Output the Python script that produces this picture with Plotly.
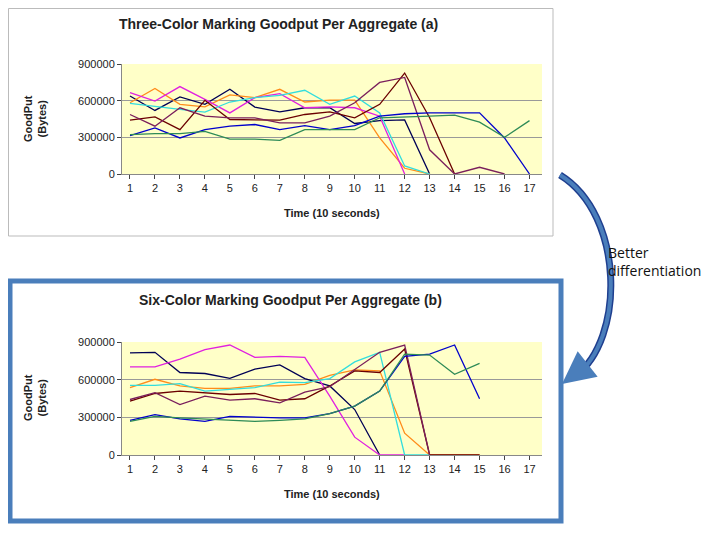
import plotly.graph_objects as go

W, H = 720, 540
OFF = 8  # page body margin shifts the figure
time = list(range(1, 18))
colors = ['#000055', '#FF8C1A', '#E020E0', '#33DDDD', '#6B0000', '#7A1F5C', '#0000CC', '#2E8B57']

# three-color marking (a)
a_navy = [638e3, 520e3, 630e3, 570e3, 693e3, 548e3, 509e3, 542e3, 542e3, 413e3, 437e3, 443e3, 0]
a_orange = [583e3, 700e3, 570e3, 550e3, 647e3, 625e3, 693e3, 589e3, 605e3, 605e3, 295e3, 47e3, 0]
a_magenta = [666e3, 597e3, 715e3, 611e3, 500e3, 625e3, 658e3, 542e3, 550e3, 542e3, 473e3, 0]
a_cyan = [578e3, 556e3, 528e3, 506e3, 589e3, 625e3, 644e3, 685e3, 570e3, 638e3, 500e3, 66e3, 0]
a_maroon = [440e3, 468e3, 363e3, 603e3, 446e3, 440e3, 440e3, 487e3, 509e3, 460e3, 570e3, 826e3, 460e3, 0]
a_purple = [487e3, 391e3, 542e3, 473e3, 460e3, 460e3, 418e3, 418e3, 473e3, 583e3, 749e3, 790e3, 198e3, 0, 55e3, 0]
a_blue = [314e3, 377e3, 295e3, 363e3, 391e3, 405e3, 363e3, 396e3, 363e3, 396e3, 473e3, 493e3, 500e3, 500e3, 500e3, 295e3, 0]
a_green = [322e3, 330e3, 330e3, 349e3, 286e3, 286e3, 275e3, 363e3, 363e3, 363e3, 460e3, 465e3, 473e3, 482e3, 424e3, 300e3, 437e3]

# six-color marking (b)
b_navy = [813e3, 818e3, 657e3, 649e3, 611e3, 684e3, 718e3, 608e3, 550e3, 362e3, 0]
b_orange = [536e3, 603e3, 550e3, 531e3, 531e3, 550e3, 550e3, 563e3, 635e3, 678e3, 670e3, 174e3, 0, 0, 0]
b_magenta = [702e3, 702e3, 764e3, 839e3, 876e3, 777e3, 786e3, 777e3, 469e3, 142e3, 0, 0]
b_cyan = [555e3, 555e3, 568e3, 509e3, 523e3, 536e3, 581e3, 576e3, 608e3, 742e3, 818e3, 0, 0]
b_maroon = [429e3, 490e3, 509e3, 496e3, 482e3, 490e3, 437e3, 448e3, 550e3, 670e3, 657e3, 844e3, 0, 0, 0]
b_purple = [442e3, 496e3, 402e3, 469e3, 437e3, 448e3, 415e3, 501e3, 544e3, 684e3, 818e3, 876e3, 0]
b_blue = [276e3, 322e3, 288e3, 268e3, 308e3, 300e3, 295e3, 295e3, 330e3, 389e3, 509e3, 785e3, 804e3, 876e3, 448e3]
b_green = [268e3, 308e3, 295e3, 287e3, 276e3, 268e3, 276e3, 287e3, 330e3, 389e3, 509e3, 804e3, 796e3, 643e3, 729e3]

series_a = [a_navy, a_orange, a_magenta, a_cyan, a_maroon, a_purple, a_blue, a_green]
series_b = [b_navy, b_orange, b_magenta, b_cyan, b_maroon, b_purple, b_blue, b_green]


def px(x):
    return (x - OFF) / W


def py(y):
    return 1 - (y - OFF) / H


fig = go.Figure()
for vals, c in zip(series_a, colors):
    fig.add_trace(go.Scatter(x=time[:len(vals)], y=vals, mode='lines', line=dict(color=c, width=1.3),
                             xaxis='x', yaxis='y', showlegend=False))
for vals, c in zip(series_b, colors):
    fig.add_trace(go.Scatter(x=time[:len(vals)], y=vals, mode='lines', line=dict(color=c, width=1.3),
                             xaxis='x2', yaxis='y2', showlegend=False))

xdom = [px(122), px(542)]
axis_x = dict(range=[0.68, 17.5], tickvals=time, ticks='outside', ticklen=4, showgrid=False,
              showline=True, linecolor='#888', zeroline=False, tickfont=dict(size=11, color='#222'),
              domain=xdom, automargin=False)
axis_y = dict(range=[0, 900000], tickvals=[0, 300000, 600000, 900000], tickformat='d',
              showgrid=True, gridcolor='#999', showline=True, linecolor='#888', ticks='outside',
              ticklen=4, zeroline=False, tickfont=dict(size=11, color='#222'), automargin=False)

fig.update_layout(
    width=W, height=H, margin=dict(l=0, r=0, t=0, b=0, autoexpand=False),
    paper_bgcolor='white', plot_bgcolor='#FFFFC8',
    font=dict(family='Liberation Sans, Arial', color='#222'),
    xaxis=dict(axis_x, anchor='y'),
    yaxis=dict(axis_y, domain=[py(174), py(64)], anchor='x'),
    xaxis2=dict(axis_x, anchor='y2'),
    yaxis2=dict(axis_y, domain=[py(455), py(342)], anchor='x2'),
)

arrow_path = f'M {px(560)} {py(175)} C {px(625)} {py(215)}, {px(625)} {py(340)}, {px(575)} {py(376)}'
shapes = [
    dict(type='rect', xref='paper', yref='paper', x0=px(8.5), x1=px(553), y0=py(236), y1=py(8.5),
         line=dict(color='#BBBBBB', width=1), layer='below'),
    dict(type='rect', xref='paper', yref='paper', x0=px(10), x1=px(561), y0=py(521), y1=py(281),
         line=dict(color='#4A7EBB', width=5), layer='below'),
    dict(type='path', xref='paper', yref='paper', path=arrow_path, line=dict(color='#1F3F8F', width=7)),
    dict(type='path', xref='paper', yref='paper', path=arrow_path, line=dict(color='#4A7EBB', width=4)),
]
fig.update_layout(shapes=shapes)

ann = [
    dict(text='<b>Three-Color Marking Goodput Per Aggregate (a)</b>', x=px(278), y=py(24)),
    dict(text='<b>Six-Color Marking Goodput Per Aggregate (b)</b>', x=px(290), y=py(300)),
    dict(text='<b>Time (10 seconds)</b>', x=px(332), y=py(213), size=11),
    dict(text='<b>Time (10 seconds)</b>', x=px(332), y=py(494), size=11),
    dict(text='<b>GoodPut<br>(Bytes)</b>', x=px(35), y=py(119), size=11, angle=-90),
    dict(text='<b>GoodPut<br>(Bytes)</b>', x=px(35), y=py(398), size=11, angle=-90),
]
for a in ann:
    fig.add_annotation(text=a['text'], x=a['x'], y=a['y'], xref='paper', yref='paper',
                       xanchor='center', yanchor='middle', showarrow=False,
                       textangle=a.get('angle', 0),
                       font=dict(size=a.get('size', 14), color='#222'))

fig.add_annotation(text='Better<br>differentiation', x=px(606), y=py(261), xref='paper', yref='paper',
                   xanchor='left', yanchor='middle', align='left', showarrow=False,
                   font=dict(family='Open Sans', size=14, color='#111'))
fig.add_annotation(x=px(562), y=py(384), xref='paper', yref='paper', ax=18, ay=-14,
                   text='', showarrow=True, arrowhead=2, arrowsize=1.3, arrowwidth=5,
                   arrowcolor='#4A7EBB')

fig.write_html('out.html')
